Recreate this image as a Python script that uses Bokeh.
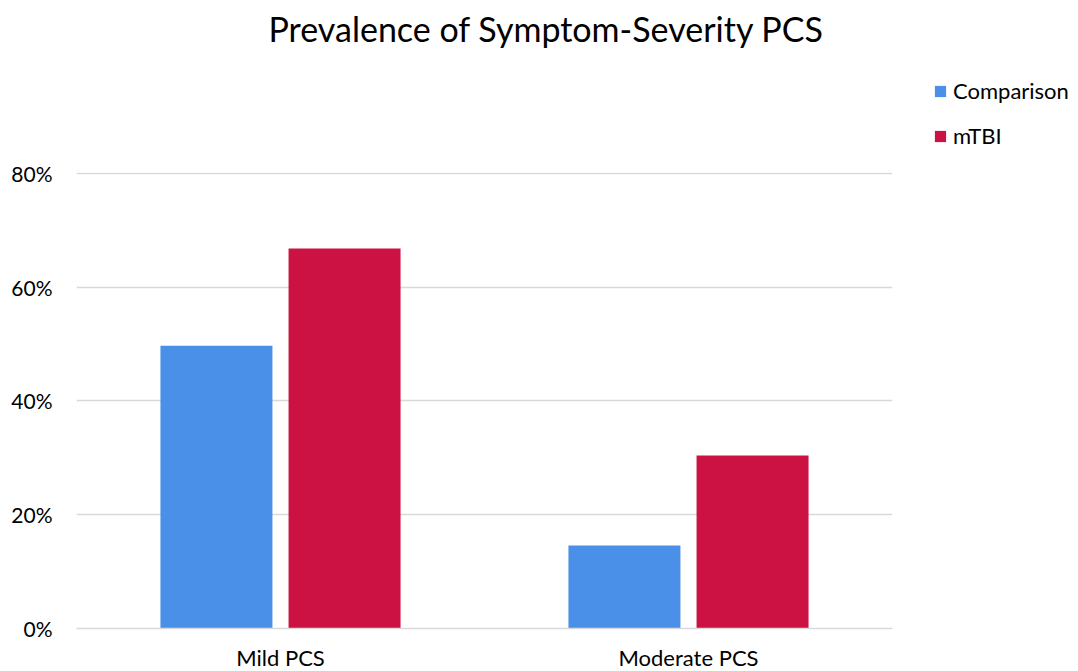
from bokeh.plotting import figure
from bokeh.models import ColumnDataSource, FactorRange, NumeralTickFormatter, Legend, LegendItem, FixedTicker, Title
from bokeh.transform import dodge
from bokeh.embed import file_html
from bokeh.resources import INLINE

categories = ["Mild PCS", "Moderate PCS"]
comparison = [0.497, 0.146]
mtbi = [0.668, 0.304]
series_names = ["Comparison", "mTBI"]
colors = ["#4A90E9", "#CC1243"]
y_ticks = [0, 0.2, 0.4, 0.6, 0.8]

FONT = "Lato"

source = ColumnDataSource(dict(cat=categories, comparison=comparison, mtbi=mtbi))

p = figure(x_range=FactorRange(*categories), y_range=(0, 0.8015),
           frame_width=816, frame_height=456, output_backend="svg", toolbar_location=None,
           min_border_left=76, min_border_right=186, min_border_top=172, min_border_bottom=43)

r1 = p.vbar(x=dodge("cat", -0.157, range=p.x_range), top="comparison", width=0.2745,
            source=source, color=colors[0], line_color=None)
r2 = p.vbar(x=dodge("cat", 0.157, range=p.x_range), top="mtbi", width=0.2745,
            source=source, color=colors[1], line_color=None)

# spacer between frame and title
p.add_layout(Title(text=" ", text_font_size="2px", standoff=120), "above")

p.title.text = "Prevalence of Symptom-Severity PCS"
p.title.align = "left"
p.title.text_font = FONT
p.title.text_font_size = "34px"
p.title.text_font_style = "normal"
p.title.text_color = "#000000"
p.title.offset = 192
p.title.standoff = 0

p.outline_line_color = None
p.xgrid.grid_line_color = None
p.ygrid.grid_line_color = "#D9D9D9"
p.ygrid.grid_line_width = 1.5
p.yaxis.ticker = FixedTicker(ticks=y_ticks)
p.yaxis.formatter = NumeralTickFormatter(format="0%")
p.yaxis.axis_line_color = None
p.yaxis.major_tick_line_color = None
p.yaxis.minor_tick_line_color = None
p.yaxis.major_label_standoff = 18
p.xaxis.axis_line_color = "#D9D9D9"
p.xaxis.axis_line_width = 1.5
p.xaxis.major_tick_line_color = None
p.xaxis.minor_tick_line_color = None
p.xaxis.major_label_standoff = 9
p.yaxis.major_label_text_font_size = "21px"
p.xaxis.major_label_text_font_size = "22px"
for ax in (p.xaxis, p.yaxis):
    ax.major_label_text_font = FONT
    ax.major_label_text_color = "#000000"

legend = Legend(items=[LegendItem(label=series_names[0], renderers=[r1]),
                       LegendItem(label=series_names[1], renderers=[r2])],
                location=(41, 479), border_line_color=None, background_fill_alpha=0,
                glyph_width=14, glyph_height=14, spacing=18, label_standoff=6,
                label_text_font=FONT, label_text_font_size="22px", label_text_color="#000000",
                padding=0, margin=0)
p.add_layout(legend, "right")

open("out.html", "w").write(file_html(p, INLINE))
